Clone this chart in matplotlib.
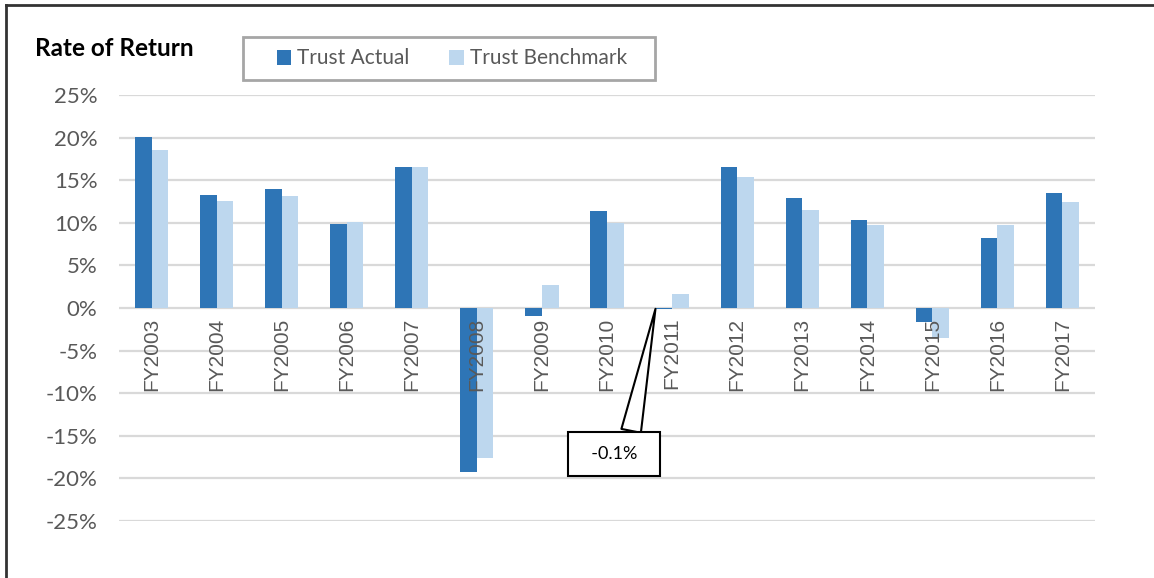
import matplotlib
matplotlib.use("Agg")
import matplotlib.pyplot as plt
from matplotlib.lines import Line2D
from matplotlib.patches import Rectangle
from matplotlib.ticker import FuncFormatter
import numpy as np

categories = ["FY2003", "FY2004", "FY2005", "FY2006", "FY2007", "FY2008", "FY2009",
              "FY2010", "FY2011", "FY2012", "FY2013", "FY2014", "FY2015", "FY2016", "FY2017"]
trust_actual = [20.1, 13.3, 14.0, 9.9, 16.5, -19.2, -0.9, 11.4, -0.1, 16.5, 12.9, 10.3, -1.7, 8.2, 13.5]
trust_benchmark = [18.5, 12.6, 13.1, 10.1, 16.5, -17.6, 2.7, 10.0, 1.7, 15.4, 11.5, 9.7, -3.5, 9.7, 12.4]
y_ticks = [-25, -20, -15, -10, -5, 0, 5, 10, 15, 20, 25]
callout_index = 8
callout_text = "-0.1%"

C_ACT = "#2E75B6"
C_BEN = "#BDD7EE"
GRID = "#D9D9D9"
TXT = "#595959"

W, H = 1154, 578
fig = plt.figure(figsize=(W / 100, H / 100), dpi=100)
fig.patch.set_facecolor("white")

ax = fig.add_axes([119 / W, 1 - 521 / H, (1095 - 119) / W, (521 - 95) / H])
x = np.arange(len(categories))
bw = 0.255
ax.bar(x - bw / 2, trust_actual, bw, color=C_ACT, label="Trust Actual", zorder=3)
ax.bar(x + bw / 2, trust_benchmark, bw, color=C_BEN, label="Trust Benchmark", zorder=3)

ax.set_xlim(-0.5, len(categories) - 0.5)
ax.set_ylim(-25, 25)
ax.set_yticks(y_ticks)
ax.yaxis.set_major_formatter(FuncFormatter(lambda v, p: f"{v:.0f}%"))
for yv in y_ticks:
    ax.axhline(yv, color=GRID, lw=1.6, zorder=1)
for s in ax.spines.values():
    s.set_visible(False)
ax.spines["bottom"].set_position(("data", 0))
ax.set_xticks(x)
ax.set_xticklabels(categories, rotation=90, fontsize=15, color=TXT,
                   family=["Liberation Sans", "DejaVu Sans"])
ax.xaxis.set_zorder(5)
ax.tick_params(axis="x", length=0, pad=7)
ax.tick_params(axis="y", length=0, pad=15.5, labelsize=16, labelcolor=TXT)
for lab in ax.get_yticklabels():
    lab.set_family(["Lato", "DejaVu Sans"])

# callout
ax.annotate("  " + callout_text + "  ",
            xy=(x[callout_index] - bw, trust_actual[callout_index]),
            xytext=(7.107, -17.1), textcoords="data",
            ha="center", va="center", fontsize=13, color="black",
            family=["Lato", "DejaVu Sans"], zorder=6,
            bbox=dict(boxstyle="square,pad=0.78", fc="white", ec="black", lw=1.5),
            arrowprops=dict(arrowstyle="wedge,tail_width=1.1", fc="white", ec="black",
                            lw=1.5, relpos=(0.72, 1.0), shrinkA=0, shrinkB=0))

# title
fig.text(35 / W, 1 - 48 / H, "Rate of Return", fontsize=17.5, fontweight="bold",
         family=["Lato", "DejaVu Sans"], ha="left", va="center", color="black")

# legend
leg = fig.legend(loc="center", bbox_to_anchor=(452 / W, 1 - 58.5 / H), ncol=2,
                 frameon=False,
                 prop={"family": ["Lato", "DejaVu Sans"], "size": 15},
                 handlelength=0.7, handleheight=0.7, handletextpad=0.3,
                 columnspacing=1.9, borderpad=0.0, borderaxespad=0)
for t in leg.get_texts():
    t.set_color(TXT)
fig.add_artist(Rectangle((243 / W, 1 - 80 / H), 412 / W, 43 / H, transform=fig.transFigure,
                         fill=False, ec="#A6A6A6", lw=2))

# outer frame (top and left edges)
fig.add_artist(Line2D([6 / W, 1], [1 - 5 / H, 1 - 5 / H], transform=fig.transFigure,
                      color="#333333", lw=2))
fig.add_artist(Line2D([6 / W, 6 / W], [0, 1 - 5 / H], transform=fig.transFigure,
                      color="#333333", lw=2))

fig.savefig("out.png", dpi=100)
